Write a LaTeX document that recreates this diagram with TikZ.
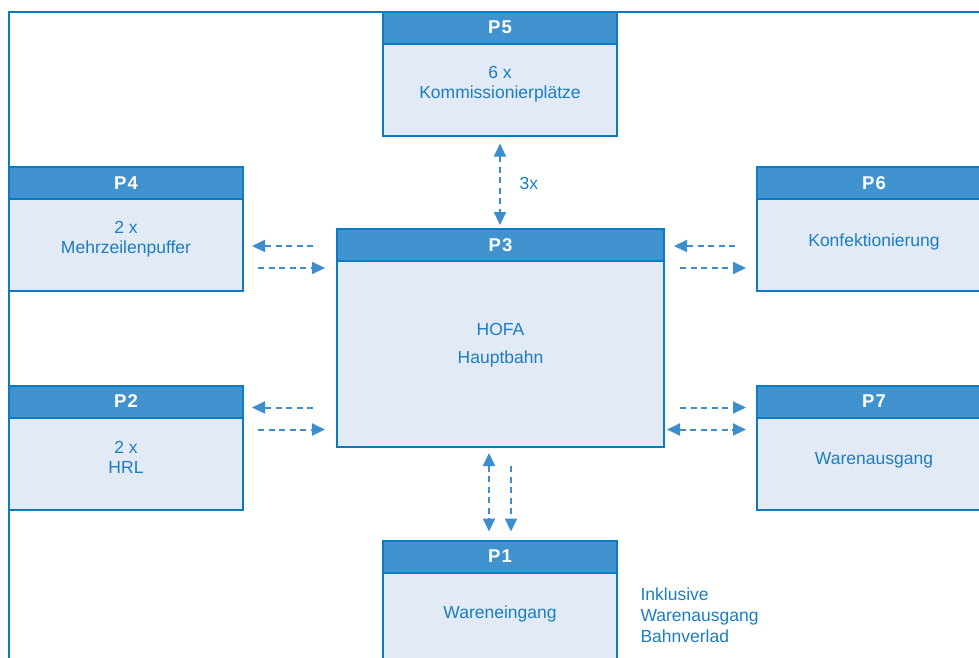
\documentclass[tikz,border=0pt]{standalone}
\usepackage{fontspec}
\setmainfont{Liberation Sans}
\usetikzlibrary{positioning,calc,arrows.meta}

\definecolor{rand}{HTML}{0B7BC4}
\definecolor{kopfblau}{HTML}{4193D0}
\definecolor{hellblau}{HTML}{E2EAF6}
\definecolor{schrift}{HTML}{1B7DC2}
\definecolor{pfeilblau}{HTML}{3D8ECF}

\tikzset{
  kopf/.style={draw=rand, line width=2pt, fill=kopfblau, minimum width=234pt, minimum height=32pt, inner sep=0pt, outer sep=0pt, text=white, font=\fontsize{18.5}{20}\selectfont\bfseries},
  rumpf/.style={draw=rand, line width=2pt, fill=hellblau, minimum width=234pt, minimum height=92pt, inner sep=0pt, outer sep=0pt},
  inhalt/.style={text=schrift, align=center, font=\fontsize{17.5}{20}\selectfont},
  pfeil/.style={pfeilblau, line width=2pt, dash pattern=on 6pt off 4.5pt, -{Triangle[length=13pt,width=12pt]}},
  doppelpfeil/.style={pfeil, {Triangle[length=13pt,width=12pt]}-{Triangle[length=13pt,width=12pt]}},
}

\begin{document}
\begin{tikzpicture}[x=1pt, y=-1pt]
    \useasboundingbox (0,0) rectangle (979,657);
    \clip (0,0) rectangle (979,657);
    % outer frame
    \draw[rand, line width=2pt] (9,670) -- (9,12) -- (990,12);

    % stations
    \node[kopf] (p5k) at (500,27.5) {P\kern1pt5};
    \node[rumpf, below=0pt of p5k] (p5) {};
    \node[inhalt] (p5t) at ($(p5)+(0,-5)$) {6 x\\Kommissionierplätze};

    \node[kopf] (p4k) at (126,183) {P\kern1pt4};
    \node[rumpf, below=0pt of p4k] (p4) {};
    \node[inhalt] (p4t) at ($(p4)+(0,-6)$) {2 x\\Mehrzeilenpuffer};

    \node[kopf] (p6k) at (874,183) {P\kern1pt6};
    \node[rumpf, below=0pt of p6k] (p6) {};
    \node[inhalt] (p6t) at ($(p6)+(0,-3)$) {Konfektionierung};

    \node[kopf, minimum width=327pt] (p3k) at (500.5,245) {P\kern1pt3};
    \node[rumpf, minimum width=327pt, minimum height=186pt, below=0pt of p3k] (p3) {};
    \node[inhalt] (p3t) at ($(p3)+(0,-9)$) {HOFA\\[8pt]Hauptbahn};

    \node[kopf] (p2k) at (126,401.5) {P\kern1pt2};
    \node[rumpf, below=0pt of p2k] (p2) {};
    \node[inhalt] (p2t) at ($(p2)+(0,-6)$) {2 x\\HRL};

    \node[kopf] (p7k) at (874,401.5) {P\kern1pt7};
    \node[rumpf, below=0pt of p7k] (p7) {};
    \node[inhalt] (p7t) at ($(p7)+(0,-3)$) {Warenausgang};

    \node[kopf] (p1k) at (500,556.5) {P\kern1pt1};
    \node[rumpf, below=0pt of p1k] (p1) {};
    \node[inhalt] (p1t) at ($(p1)+(0,-5)$) {Wareneingang};

    % flows
    \draw[doppelpfeil, shorten <=8pt, shorten >=4pt] (p5.south) -- (p5.south |- p3k.north);
    \node[inhalt, anchor=west] (drei) at (516,183) {3x};

    \draw[pfeil, shorten <=24pt, shorten >=9pt] ($(p4.east -| p3.west)+(0,1)$) -- ($(p4.east)+(0,1)$);
    \draw[pfeil, shorten <=15pt, shorten >=12pt] ($(p4.east)+(0,23)$) -- ($(p4.east -| p3.west)+(0,23)$);

    \draw[pfeil, shorten <=24pt, shorten >=9pt] ($(p2.east -| p3.west)+(0,-56)$) -- ($(p2.east)+(0,-56)$);
    \draw[pfeil, shorten <=15pt, shorten >=12pt] ($(p2.east)+(0,-34)$) -- ($(p2.east -| p3.west)+(0,-34)$);

    \draw[pfeil, shorten <=22pt, shorten >=10pt] ($(p6.west)+(0,1)$) -- ($(p6.west -| p3.east)+(0,1)$);
    \draw[pfeil, shorten <=16pt, shorten >=11pt] ($(p6.west -| p3.east)+(0,23)$) -- ($(p6.west)+(0,23)$);

    \draw[pfeil, shorten <=16pt, shorten >=11pt] ($(p7.west -| p3.east)+(0,-56)$) -- ($(p7.west)+(0,-56)$);
    \draw[doppelpfeil, shorten <=3pt, shorten >=11pt] ($(p7.west -| p3.east)+(0,-34)$) -- ($(p7.west)+(0,-34)$);

    \draw[doppelpfeil, shorten <=6pt, shorten >=9pt] ($(p1k.north |- p3.south)+(-11,0)$) -- ($(p1k.north)+(-11,0)$);
    \draw[pfeil, shorten <=19pt, shorten >=9pt] ($(p1k.north |- p3.south)+(11,0)$) -- ($(p1k.north)+(11,0)$);

    \node[inhalt, align=left, anchor=west, font=\fontsize{17.5}{21}\selectfont] (hinweis) at (637,615) {Inklusive\\Warenausgang\\Bahnverlad};
  \end{tikzpicture}
\end{document}
